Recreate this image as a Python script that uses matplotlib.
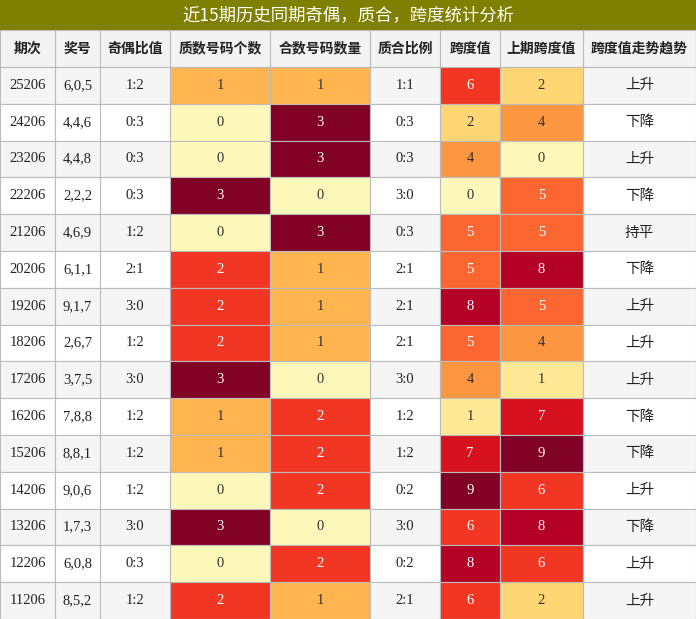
import matplotlib
matplotlib.use("Agg")
import matplotlib.pyplot as plt
from matplotlib.patches import Rectangle
from matplotlib import cm, colors

title = "近15期历史同期奇偶，质合，跨度统计分析"
headers = ["期次", "奖号", "奇偶比值", "质数号码个数", "合数号码数量", "质合比例", "跨度值", "上期跨度值", "跨度值走势趋势"]
periods = ["25206","24206","23206","22206","21206","20206","19206","18206","17206","16206","15206","14206","13206","12206","11206"]
numbers = ["6,0,5","4,4,6","4,4,8","2,2,2","4,6,9","6,1,1","9,1,7","2,6,7","3,7,5","7,8,8","8,8,1","9,0,6","1,7,3","6,0,8","8,5,2"]
odd_even = ["1:2","0:3","0:3","0:3","1:2","2:1","3:0","1:2","3:0","1:2","1:2","1:2","3:0","0:3","1:2"]
primes = [1,0,0,3,0,2,2,2,3,1,1,0,3,0,2]
composites = [1,3,3,0,3,1,1,1,0,2,2,2,0,2,1]
pc_ratio = ["1:1","0:3","0:3","3:0","0:3","2:1","2:1","2:1","3:0","1:2","1:2","0:2","3:0","0:2","2:1"]
span = [6,2,4,0,5,5,8,5,4,1,7,9,6,8,6]
prev_span = [2,4,0,5,5,8,5,4,1,7,9,6,8,6,2]
trend = ["上升","下降","上升","下降","持平","下降","上升","上升","上升","下降","下降","上升","下降","上升","上升"]

W, H = 696, 619
fig = plt.figure(figsize=(W/100, H/100), dpi=100)
ax = fig.add_axes([0, 0, 1, 1])
ax.set_xlim(0, W); ax.set_ylim(H, 0); ax.axis("off")

cjk = ["Noto Sans CJK SC", "DejaVu Sans"]
serif = ["Liberation Serif", "DejaVu Serif"]
xs = [0, 55, 100, 170, 270, 370, 440, 500, 583, 696]
title_h = 30
head_h = 37
row_h = (H - title_h - head_h) / 15
grid = "#bbbbbb"

ax.add_patch(Rectangle((0, 0), W, title_h, color="#808000"))
ax.text(W/2, title_h/2, title, color="white", fontsize=12.5, ha="center", va="center", family=cjk)

for i, h in enumerate(headers):
    ax.add_patch(Rectangle((xs[i], title_h), xs[i+1]-xs[i], head_h, facecolor="#f3f3f3", edgecolor=grid, lw=0.8))
    ax.text((xs[i]+xs[i+1])/2, title_h+head_h/2, h, fontsize=10, ha="center", va="center", family=cjk, weight="bold", color="#222")

cmap = plt.get_cmap("YlOrRd")
def heat(v, vmax):
    return cmap(0.05 + 0.95 * v / vmax)

for r in range(15):
    y = title_h + head_h + r*row_h
    base = "#f5f5f5" if r % 2 == 0 else "white"
    cells = [periods[r], numbers[r], odd_even[r], primes[r], composites[r], pc_ratio[r], span[r], prev_span[r], trend[r]]
    for c, val in enumerate(cells):
        fc = base
        tc = "#222"
        if c in (3, 4):
            fc = heat(val, 3)
        elif c in (6, 7):
            fc = heat(val, 9)
        if c in (3, 4, 6, 7):
            lum = colors.rgb_to_hsv(fc[:3])[2] * (0.3 + 0.7*fc[1])
            tc = "white" if fc[1] < 0.45 else "#333"
        if c == 8:
            fc = "white" if r % 2 else "#f5f5f5"
        ax.add_patch(Rectangle((xs[c], y), xs[c+1]-xs[c], row_h, facecolor=fc, edgecolor=grid, lw=0.8))
        fam = cjk if c == 8 else serif
        ax.text((xs[c]+xs[c+1])/2, y+row_h/2, str(val), fontsize=10.5 if c == 8 else 10.5,
                ha="center", va="center", family=fam, color=tc)

fig.savefig("out.png", dpi=100)
